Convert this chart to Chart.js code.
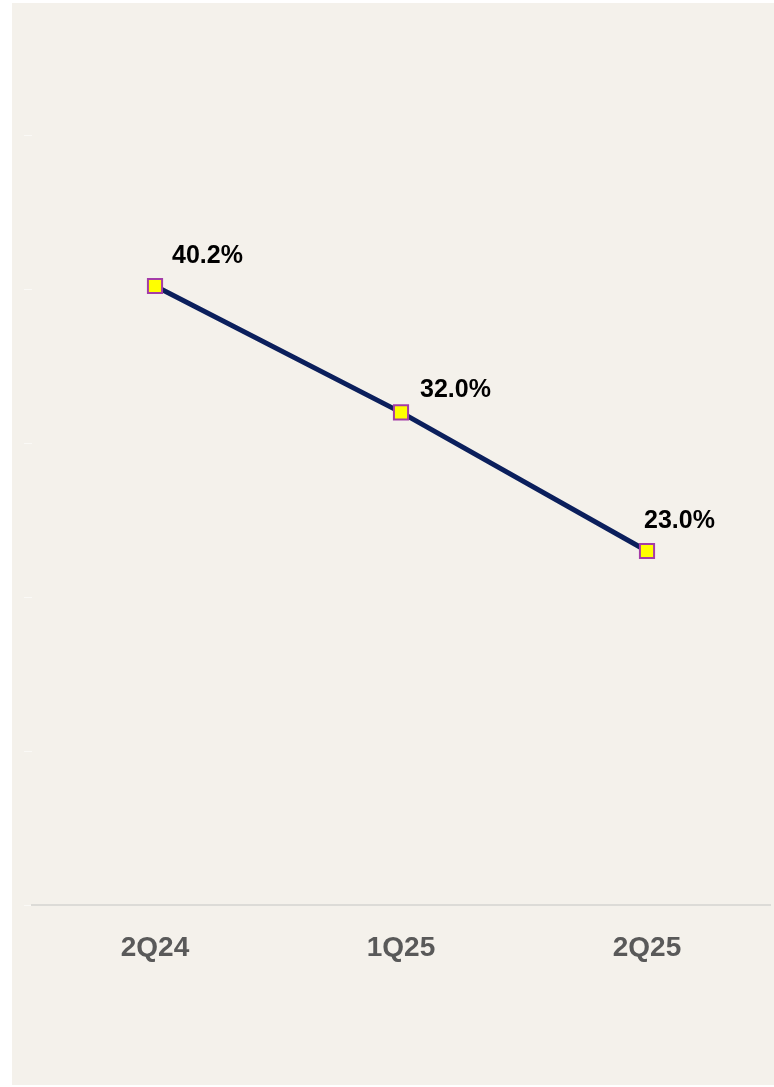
<!DOCTYPE html>
<html>
<head>
<meta charset="utf-8">
<script src="https://cdn.jsdelivr.net/npm/chart.js@4"></script>
<style>
  html, body { margin: 0; padding: 0; background: #ffffff; overflow: hidden; }
  #wrap {
    position: absolute;
    left: 12px;
    top: 3px;
    width: 762px;
    height: 1082px;
    background: #f4f1eb;
  }
</style>
</head>
<body>
<div id="wrap"><canvas id="graph"></canvas></div>
<script>
const quarters = ["2Q24", "1Q25", "2Q25"];
const ratio = [40.2, 32.0, 23.0];

const graph = document.getElementById("graph");

// where each value label sits relative to its point (left edge, middle)
const labelShift = [
  { dx: 17, dy: -30 },
  { dx: 19, dy: -22 },
  { dx: -3, dy: -30 },
];

const valueLabels = {
  id: "valueLabels",
  afterDatasetsDraw(chart) {
    const ctx = chart.ctx;
    const meta = chart.getDatasetMeta(0);
    ctx.save();
    ctx.font = "bold 25px 'Liberation Sans', Arial, sans-serif";
    ctx.fillStyle = "#000000";
    ctx.textAlign = "left";
    ctx.textBaseline = "middle";
    meta.data.forEach((pt, i) => {
      const s = labelShift[i];
      ctx.fillText(ratio[i].toFixed(1) + "%", pt.x + s.dx, pt.y + s.dy);
    });
    ctx.restore();
  },
};

const data = {
  labels: quarters,
  datasets: [
    {
      label: "ratio",
      data: ratio,
      borderColor: "#0b1f5c",
      borderWidth: 5,
      pointStyle: "rect",
      pointRadius: 10,
      pointHoverRadius: 10,
      pointBackgroundColor: "#ffff00",
      pointBorderColor: "#a43ca8",
      pointBorderWidth: 2,
      tension: 0,
    },
  ],
};

const config = {
  type: "line",
  data,
  plugins: [valueLabels],
  options: {
    responsive: true,
    maintainAspectRatio: false,
    animation: false,
    layout: {
      autoPadding: false,
      padding: { left: 12, right: 4, top: 132, bottom: 94 },
    },
    plugins: {
      legend: { display: false },
      tooltip: { enabled: false },
    },
    scales: {
      x: {
        offset: true,
        grid: { display: false, drawTicks: false },
        border: { display: true, color: "#dcdbd7", width: 2 },
        ticks: {
          padding: 26,
          color: "#595959",
          font: { family: "'Liberation Sans', Arial, sans-serif", size: 28, weight: "bold" },
        },
      },
      y: {
        min: 0,
        max: 50,
        ticks: { display: false, stepSize: 10 },
        grid: {
          drawOnChartArea: false,
          drawTicks: true,
          tickLength: 8,
          color: "#faf9f6",
          lineWidth: 1,
        },
        border: { display: false },
      },
    },
  },
};

const graphic = new Chart(graph, config);
</script>
</body>
</html>
